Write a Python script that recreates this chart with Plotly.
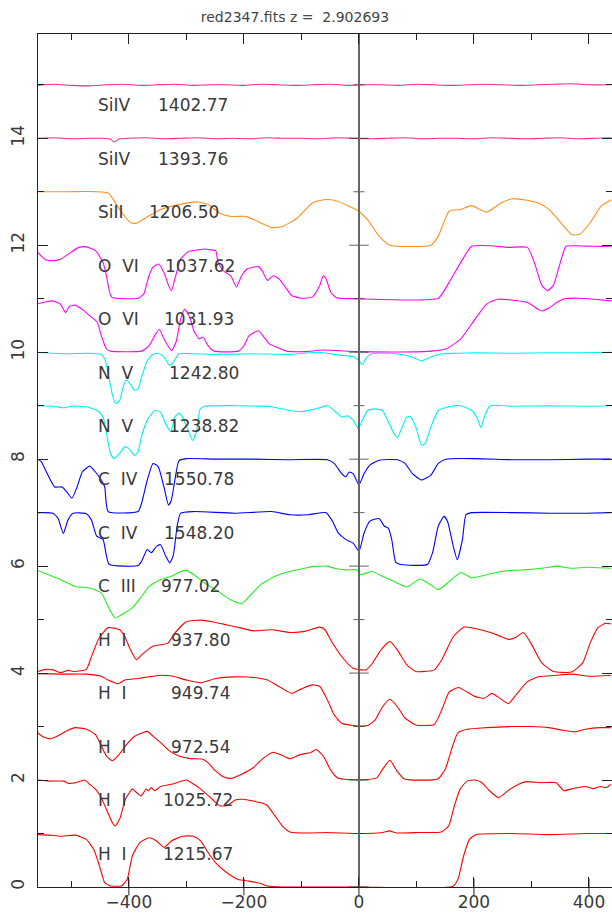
import plotly.graph_objects as go

NBSP = "\u00a0"

# ---------------- data (velocity km/s, normalised flux) ----------------
V_HI1215 = [-558,-538,-519,-493,-474,-461,-451,-442,-432,-413,-403,-394,-381,-365,-352,-339,-326,-307,-287,-275,-262,-249,-230,-210,-191,-172,-159,-133,0,163,172,182,192,204,266,330,394,438]
F_HI1215 = [0.98,0.97,0.95,0.97,0.89,0.70,0.39,0.08,0.02,0.02,0.14,0.58,0.83,0.92,0.86,0.74,0.86,0.95,0.95,0.86,0.64,0.45,0.27,0.14,0.11,0.07,0.02,0.0,0.0,0.01,0.14,0.58,0.89,0.98,1.0,0.98,1.0,1.0]

V_HI1025 = [-558,-538,-513,-506,-493,-477,-468,-458,-448,-439,-429,-424,-416,-406,-394,-384,-379,-374,-370,-366,-361,-355,-345,-326,-300,-287,-275,-255,-242,-230,-214,-201,-185,-168,-159,-146,-133,-120,-88,-56,0,41,53,66,105,143,156,166,176,188,201,214,227,243,259,272,291,317,343,356,368,381,394,407,420,430,438]
F_HI1025 = [1.0,0.98,0.98,0.94,0.95,1.0,0.92,0.83,0.67,0.45,0.21,0.14,0.27,0.64,0.83,0.74,0.70,0.77,0.83,0.80,0.86,0.80,0.88,0.92,1.0,0.92,0.83,0.64,0.52,0.52,0.63,0.64,0.61,0.57,0.52,0.33,0.14,0.03,0.01,0.02,0.0,0.02,0.05,0.01,0.02,0.03,0.14,0.52,0.83,0.98,1.0,0.95,0.80,0.67,0.80,0.89,0.97,0.95,0.95,0.80,0.83,0.86,0.88,0.84,0.88,0.86,0.92]

V_HI972 = [-558,-551,-538,-525,-506,-493,-474,-458,-448,-439,-429,-419,-406,-390,-377,-368,-358,-345,-329,-313,-294,-271,-262,-249,-236,-223,-204,-184,-165,-149,-133,-120,-101,-85,-74,-62,-50,-37,-17,15,31,41,54,66,79,137,150,163,172,188,221,266,298,330,355,375,394,420,438]
F_HI972 = [0.88,0.82,0.77,0.82,0.93,0.98,0.95,0.85,0.64,0.45,0.36,0.45,0.64,0.82,0.88,0.91,0.82,0.70,0.54,0.45,0.40,0.39,0.32,0.17,0.06,0.03,0.11,0.23,0.42,0.52,0.46,0.40,0.48,0.51,0.57,0.45,0.20,0.04,0.01,0.01,0.04,0.20,0.37,0.17,0.02,0.02,0.20,0.64,0.88,0.95,0.98,1.0,1.0,0.98,0.93,0.90,0.95,0.98,0.98]

V_HI949 = [-558,-519,-474,-448,-436,-419,-407,-384,-365,-342,-323,-300,-274,-249,-216,-184,-159,-133,-117,-101,-81,-68,-55,-43,-30,-10,15,28,41,54,67,80,99,131,144,157,173,202,218,231,241,260,273,293,312,344,370,402,438]
F_HI949 = [0.99,0.98,0.98,0.94,0.87,0.80,0.87,0.90,0.93,0.96,0.94,0.87,0.82,0.90,0.93,0.92,0.87,0.71,0.62,0.70,0.78,0.75,0.50,0.22,0.06,0.02,0.02,0.12,0.37,0.51,0.37,0.16,0.03,0.04,0.31,0.65,0.73,0.56,0.53,0.62,0.56,0.43,0.59,0.84,0.93,0.96,0.98,0.94,0.96]

V_HI937 = [-558,-545,-532,-519,-506,-494,-474,-465,-452,-436,-416,-407,-397,-387,-378,-368,-358,-345,-332,-320,-300,-274,-255,-229,-204,-184,-152,-120,-94,-68,-59,-49,-30,-10,12,22,38,54,67,83,99,131,144,164,183,215,241,260,273,286,299,318,338,370,389,402,415,428,438]
F_HI937 = [0.03,0.07,0.06,0.01,0.05,0.03,0.07,0.31,0.65,0.85,0.81,0.68,0.43,0.25,0.34,0.43,0.50,0.53,0.56,0.75,0.96,0.99,0.96,0.90,0.84,0.79,0.81,0.76,0.78,0.86,0.81,0.62,0.31,0.09,0.06,0.16,0.43,0.59,0.43,0.16,0.03,0.06,0.25,0.68,0.86,0.80,0.71,0.63,0.67,0.76,0.56,0.19,0.03,0.02,0.19,0.56,0.84,0.93,0.92]

V_CIII = [-558,-545,-519,-494,-468,-448,-439,-432,-424,-413,-394,-378,-365,-345,-326,-310,-300,-287,-268,-249,-223,-204,-191,-171,-146,-120,-94,-81,-55,-43,-23,-4,3,22,41,67,83,106,125,138,157,177,196,222,247,267,299,331,344,370,396,438]
F_CIII = [0.92,0.86,0.75,0.62,0.59,0.50,0.31,0.16,0.03,0.09,0.22,0.43,0.62,0.75,0.81,0.90,0.92,0.84,0.68,0.56,0.37,0.30,0.43,0.65,0.81,0.90,0.96,0.99,1.0,0.96,0.93,0.93,0.84,0.90,0.81,0.68,0.61,0.76,0.65,0.56,0.71,0.88,0.78,0.84,0.90,0.92,0.94,0.98,1.0,0.96,0.98,0.96]

V_CIV1548 = [-558,-532,-523,-514,-506,-497,-474,-465,-456,-445,-439,-434,-384,-378,-368,-361,-352,-345,-336,-329,-323,-316,-310,-287,-216,-152,-120,-88,-57,-46,-36,-23,-10,0,9,19,35,44,51,57,64,73,119,128,138,148,154,164,171,180,186,196,267,331,396,438]
F_CIV1548 = [1.0,0.99,0.89,0.61,0.86,0.99,0.98,0.86,0.56,0.50,0.19,0.03,0.01,0.09,0.31,0.25,0.37,0.40,0.19,0.06,0.19,0.75,0.99,1.02,0.99,1.02,0.96,0.96,1.0,0.84,0.62,0.50,0.43,0.28,0.62,0.84,0.89,0.75,0.71,0.50,0.07,0.03,0.03,0.25,0.75,0.93,0.84,0.37,0.12,0.50,0.96,1.0,1.0,0.99,0.99,1.0]

V_CIV1550 = [-558,-552,-542,-529,-516,-506,-499,-490,-481,-468,-458,-448,-442,-436,-384,-378,-368,-358,-349,-339,-331,-326,-320,-313,-300,-249,-184,-120,-55,-43,-30,-23,-17,-10,0,9,19,35,67,80,93,109,125,138,151,202,267,331,396,438]
F_CIV1550 = [1.0,0.95,0.73,0.48,0.48,0.36,0.27,0.48,0.76,0.87,0.76,0.61,0.48,0.02,0.02,0.17,0.61,0.92,0.86,0.48,0.14,0.24,0.61,0.97,1.01,1.0,1.0,0.99,0.99,0.92,0.73,0.67,0.76,0.73,0.52,0.73,0.89,0.98,0.99,0.92,0.73,0.61,0.70,0.92,1.0,1.01,0.99,0.99,1.0,1.0]

V_NV1238 = [-558,-532,-513,-500,-474,-455,-445,-439,-432,-426,-416,-407,-400,-390,-384,-378,-368,-355,-345,-336,-327,-320,-313,-307,-297,-289,-282,-276,-268,-216,-152,-120,-101,-75,-55,-43,-30,-20,-10,-1,6,15,28,41,51,61,67,73,83,90,99,109,115,125,138,157,177,196,206,212,218,228,267,331,396,438]
F_NV1238 = [1.0,0.99,0.96,0.99,0.98,0.91,0.79,0.48,0.11,0.01,0.11,0.23,0.20,0.07,0.14,0.42,0.73,0.91,0.88,0.66,0.51,0.79,0.86,0.79,0.54,0.35,0.54,0.94,0.99,1.0,0.98,0.91,0.89,0.94,1.0,0.91,0.79,0.81,0.73,0.57,0.73,0.91,0.94,0.91,0.70,0.48,0.40,0.54,0.78,0.80,0.60,0.26,0.29,0.60,0.91,0.98,1.0,0.91,0.76,0.59,0.79,1.0,0.99,1.0,0.99,1.0]

V_NV1242 = [-558,-532,-506,-474,-448,-442,-436,-429,-423,-416,-410,-405,-400,-390,-384,-378,-368,-358,-349,-339,-329,-323,-313,-287,-249,-184,-120,-68,-55,-30,-10,0,6,12,22,48,73,93,109,125,144,170,202,267,331,383,438]
F_NV1242 = [1.0,0.98,0.97,0.98,0.96,0.88,0.60,0.22,0.04,0.10,0.35,0.48,0.44,0.29,0.32,0.53,0.84,0.96,0.98,0.91,0.75,0.81,0.97,0.97,0.96,0.97,0.96,1.0,0.98,0.94,0.92,0.84,0.77,0.88,0.97,0.98,0.96,0.91,0.84,0.91,0.97,0.98,0.99,0.98,0.99,0.99,1.0]

V_OVI1031 = [-558,-545,-532,-519,-510,-503,-494,-481,-468,-455,-448,-439,-432,-378,-365,-355,-347,-339,-326,-318,-310,-303,-294,-287,-278,-271,-262,-252,-210,-200,-191,-175,-165,-155,-142,-126,-94,-62,0,112,151,177,202,222,241,260,293,312,318,331,344,357,383,409,439]
F_OVI1031 = [0.91,0.94,0.96,0.90,0.74,0.86,0.88,0.80,0.68,0.56,0.31,0.06,0.02,0.02,0.12,0.31,0.43,0.25,0.03,0.19,0.62,0.80,0.65,0.40,0.25,0.28,0.12,0.02,0.02,0.12,0.31,0.40,0.28,0.15,0.09,0.02,0.01,0.04,0.01,0.01,0.06,0.25,0.62,0.90,0.99,0.98,0.93,0.80,0.77,0.83,0.93,1.0,1.01,0.99,0.96]

V_OVI1037 = [-558,-545,-532,-519,-506,-487,-474,-458,-445,-439,-430,-384,-374,-365,-358,-348,-339,-331,-326,-320,-310,-297,-281,-268,-255,-249,-245,-236,-223,-213,-204,-194,-184,-175,-168,-159,-149,-139,-126,-117,-101,-81,-68,-62,-57,-49,-39,0,138,157,177,196,228,260,293,305,318,328,338,347,360,376,409,439]
F_OVI1037 = [0.86,0.73,0.71,0.74,0.83,0.96,0.97,0.90,0.68,0.43,0.03,0.01,0.09,0.43,0.59,0.65,0.49,0.25,0.15,0.37,0.74,0.88,0.91,0.93,0.91,0.90,0.68,0.52,0.43,0.22,0.43,0.56,0.59,0.60,0.52,0.34,0.43,0.37,0.19,0.06,0.01,0.03,0.25,0.43,0.37,0.12,0.02,0.0,0.01,0.31,0.68,0.98,0.99,0.96,0.96,0.68,0.25,0.15,0.25,0.56,0.98,0.99,0.98,0.98]

V_SIII = [-558,-506,-474,-436,-416,-397,-387,-371,-345,-313,-281,-262,-242,-223,-197,-171,-152,-133,-107,-81,-62,-43,-17,-1,15,35,54,125,138,157,177,196,222,247,267,286,312,331,351,370,383,402,421,439]
F_SIII = [1.0,1.0,1.006,0.975,0.667,0.42,0.41,0.51,0.667,0.76,0.81,0.76,0.60,0.54,0.54,0.42,0.33,0.35,0.51,0.79,0.85,0.84,0.73,0.64,0.48,0.17,0.0,0.0,0.17,0.64,0.67,0.74,0.62,0.79,0.87,0.85,0.79,0.667,0.42,0.20,0.20,0.42,0.73,0.85]

V_SIIV1393 = [-558,-530,-500,-470,-445,-432,-425,-418,-400,-370,-340,-310,-280,-250,-220,-190,-160,-130,-100,-70,-40,-10,20,50,80,110,140,170,200,230,260,290,320,350,380,410,438]
F_SIIV1393 = [1.0,1.01,0.99,1.0,1.0,0.98,0.93,0.98,1.0,1.01,0.99,1.0,1.01,0.99,1.0,0.99,1.01,1.0,1.0,0.99,1.01,1.0,0.99,1.0,1.01,0.99,1.0,1.0,0.99,1.01,1.0,0.99,1.0,1.01,0.99,1.0,1.01]

V_SIIV1402 = [-558,-530,-500,-470,-440,-410,-380,-350,-320,-290,-260,-230,-200,-170,-140,-110,-80,-50,-20,10,40,70,100,130,160,190,220,250,280,310,340,370,400,438]
F_SIIV1402 = [0.99,1.01,0.99,0.98,1.0,1.01,0.99,1.0,1.01,0.99,1.0,1.0,0.99,1.01,1.0,0.99,1.0,1.01,0.99,1.0,1.0,0.99,1.01,1.0,0.99,1.0,1.01,1.0,0.99,1.0,1.01,1.02,1.0,1.0]

# species label, rest wavelength label (bottom to top)
SPECIES = ["H  I", "H  I", "H  I", "H  I", "H  I", "C  III", "C  IV", "C  IV",
           "N  V", "N  V", "O  VI", "O  VI", "SiII", "SiIV", "SiIV"]
WAVES = ["1215.67", "1025.72", "972.54", "949.74", "937.80", "977.02", "1548.20",
         "1550.78", "1238.82", "1242.80", "1031.93", "1037.62", "1206.50",
         "1393.76", "1402.77"]
VELS = [V_HI1215, V_HI1025, V_HI972, V_HI949, V_HI937, V_CIII, V_CIV1548, V_CIV1550,
        V_NV1238, V_NV1242, V_OVI1031, V_OVI1037, V_SIII, V_SIIV1393, V_SIIV1402]
FLUXES = [F_HI1215, F_HI1025, F_HI972, F_HI949, F_HI937, F_CIII, F_CIV1548, F_CIV1550,
          F_NV1238, F_NV1242, F_OVI1031, F_OVI1037, F_SIII, F_SIIV1393, F_SIIV1402]
TITLE = "red2347.fits z =  2.902693"

# ---------------- styles ----------------
COLORS = ["#ff0000"] * 5 + ["#22ee22", "#0000ff", "#0000ff", "#00f0f0", "#00f0f0",
                            "#ff00ff", "#ff00ff", "#ff9020", "#ff2a8a", "#ff2a8a"]
WAVE_X = [-344, -344, -330, -331, -331, -347, -342, -342, -334, -334, -342, -340, -368, -352, -352]
NAME_X = -458
XR = [-558, 440]
YR = [0, 15.95]
TXT = "#3a3a3a"
FONT = "DejaVu Sans"

fig = go.Figure()
for i, (v, f) in enumerate(zip(VELS, FLUXES)):
    fig.add_trace(go.Scatter(x=v, y=[val + i for val in f], mode="lines",
                             line=dict(color=COLORS[i], width=1.1, shape="spline", smoothing=0.5),
                             showlegend=False, hoverinfo="skip"))

# zero-velocity axis: tick marks crossing the line at each level
levels = list(range(len(SPECIES) + 1))
fig.add_trace(go.Scatter(x=[0] * len(levels), y=levels, mode="markers", yaxis="y2",
                         marker=dict(symbol="line-ew", size=[14 if l % 2 == 0 else 8 for l in levels],
                                     line=dict(color="#222", width=1)),
                         showlegend=False, hoverinfo="skip", cliponaxis=False))
# major bottom ticks crossing below the axis
major_x = list(range(-400, 401, 200))
fig.add_trace(go.Scatter(x=major_x, y=[0] * len(major_x), mode="markers",
                         marker=dict(symbol="line-ns", size=12, line=dict(color="#222", width=1)),
                         showlegend=False, hoverinfo="skip", cliponaxis=False))

for i in range(len(SPECIES)):
    fig.add_annotation(x=NAME_X, y=i + 0.62, text=SPECIES[i].replace(" ", NBSP),
                       showarrow=False, xanchor="left", yanchor="middle",
                       font=dict(family=FONT, size=17, color=TXT))
    fig.add_annotation(x=WAVE_X[i], y=i + 0.62, text=WAVES[i],
                       showarrow=False, xanchor="left", yanchor="middle",
                       font=dict(family=FONT, size=17, color=TXT))

zero_pos = (0 - XR[0]) / (XR[1] - XR[0])
common_y = dict(range=YR, showgrid=False, zeroline=False, automargin=False)
fig.update_layout(
    width=612, height=917,
    margin=dict(l=38, r=0, t=34, b=30, autoexpand=False),
    paper_bgcolor="white", plot_bgcolor="white",
    title=dict(text=TITLE, x=0.482, xref="container", xanchor="center",
               y=1 - 17 / 917, yref="container", yanchor="middle", automargin=False,
               font=dict(family=FONT, size=14, color="#444")),
    xaxis=dict(range=XR, dtick=200, tick0=0, ticks="inside", ticklen=10, tickcolor="#222",
               minor=dict(dtick=100, tick0=0, ticks="inside", ticklen=6, tickcolor="#222"),
               showline=True, linecolor="#222", linewidth=1, mirror="ticks",
               showgrid=False, zeroline=False, automargin=False, ticklabelstandoff=0,
               tickfont=dict(family=FONT, size=17, color=TXT)),
    yaxis=dict(**common_y, dtick=2, tick0=0, ticks="inside", ticklen=10, tickcolor="#222",
               minor=dict(dtick=1, tick0=0, ticks="inside", ticklen=6, tickcolor="#222"),
               showline=True, linecolor="#222", linewidth=1, mirror="ticks",
               tickangle=-90, ticklabelstandoff=6,
               tickfont=dict(family=FONT, size=17, color=TXT)),
    yaxis2=dict(**common_y, overlaying="y", anchor="free", position=zero_pos,
                showline=True, linecolor="#666", linewidth=1.5, showticklabels=False,
                ticks=""),
)

fig.write_html("out.html", config={"displayModeBar": False},
               post_script="document.body.style.margin='0';document.body.style.padding='0';")
